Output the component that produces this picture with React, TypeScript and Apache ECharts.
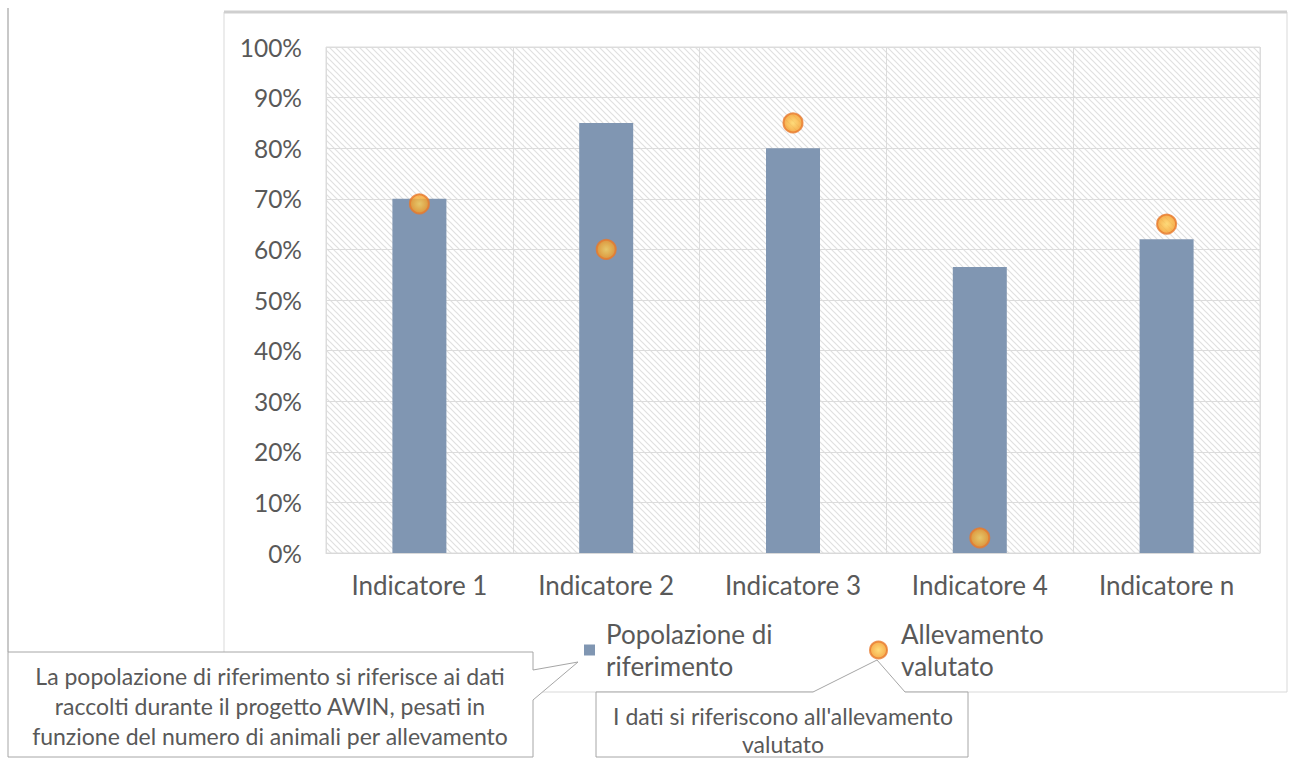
import React, { useEffect, useRef } from "react";
import * as echarts from "echarts";

const categories = ["Indicatore 1", "Indicatore 2", "Indicatore 3", "Indicatore 4", "Indicatore n"];
const popolazioneValues = [70, 85, 80, 56.5, 62];
const allevamentoValues = [69, 60, 85, 3, 65];
const seriesNames = ["Popolazione di riferimento", "Allevamento valutato"];
const legendLabels = ["Popolazione di\nriferimento", "Allevamento\nvalutato"];
const calloutLeft = "La popolazione di riferimento si riferisce ai dati\nraccolti durante il progetto AWIN, pesati in\nfunzione del numero di animali per allevamento";
const calloutRight = "I dati si riferiscono all'allevamento\nvalutato";

const FONT = "Lato, 'Noto Sans', sans-serif";
const TEXT = "#595959";

const hatchSvg =
  "data:image/svg+xml;utf8," +
  encodeURIComponent(
    "<svg xmlns='http://www.w3.org/2000/svg' width='6' height='6'><path d='M0,0 L6,6 M-1,5 L1,7 M5,-1 L7,1' stroke='#e0e0e0' stroke-width='1.2' fill='none'/></svg>"
  );

export default function App() {
  const ref = useRef<HTMLDivElement>(null);
  useEffect(() => {
    document.body.style.margin = "0";
    const chart = echarts.init(ref.current!, null, { renderer: "svg" });
    const markerColor = new echarts.graphic.RadialGradient(0.5, 0.5, 0.6, [
      { offset: 0, color: "#ffd35a" },
      { offset: 0.6, color: "#f7a930" },
      { offset: 1, color: "#ee8526" },
    ]);
    chart.setOption({
      animation: false,
      backgroundColor: "#ffffff",
      grid: {
        left: 326,
        right: 31,
        top: 47,
        bottom: 207,
        show: true,
        borderColor: "#dcdcdc",
        borderWidth: 1,
        backgroundColor: { image: hatchSvg, repeat: "repeat", imageWidth: 6, imageHeight: 6 } as any,
      },
      xAxis: {
        type: "category",
        data: categories,
        boundaryGap: true,
        axisLine: { show: true, lineStyle: { color: "#d9d9d9" } },
        axisTick: { show: false },
        splitLine: { show: true, lineStyle: { color: "#dcdcdc", width: 1 } },
        axisLabel: { color: TEXT, fontSize: 26, fontFamily: FONT, margin: 19 },
      },
      yAxis: {
        type: "value",
        min: 0,
        max: 100,
        interval: 10,
        axisLine: { show: false },
        axisTick: { show: false },
        splitLine: { show: true, lineStyle: { color: "#dcdcdc", width: 1 } },
        axisLabel: { color: TEXT, fontSize: 24.5, fontFamily: FONT, margin: 24, formatter: "{value}%" },
      },
      legend: [
        {
          data: [seriesNames[0]],
          left: 579,
          top: 613,
          itemWidth: 11,
          itemHeight: 11,
          icon: "rect",
          formatter: () => legendLabels[0],
          textStyle: { color: TEXT, fontSize: 26, fontFamily: FONT, lineHeight: 32, padding: [0, 0, 0, 6] },
          selectedMode: false,
        },
        {
          data: [seriesNames[1]],
          left: 864,
          top: 613,
          itemWidth: 17,
          itemHeight: 17,
          icon: "circle",
          formatter: () => legendLabels[1],
          textStyle: { color: TEXT, fontSize: 26, fontFamily: FONT, lineHeight: 32, padding: [0, 0, 0, 9] },
          selectedMode: false,
        },
      ],
      series: [
        {
          name: seriesNames[0],
          type: "bar",
          data: popolazioneValues,
          barWidth: 54,
          itemStyle: { color: "#8096b2" },
          z: 2,
        },
        {
          name: seriesNames[1],
          type: "scatter",
          data: allevamentoValues,
          symbol: "circle",
          symbolSize: 19,
          itemStyle: { color: markerColor, borderColor: "#e8792b", borderWidth: 2 },
          z: 3,
        },
      ],
      graphic: [
        {
          type: "rect",
          shape: { x: 224, y: 12, width: 1063, height: 680 },
          style: { fill: "none", stroke: "#d9d9d9", lineWidth: 1 },
          silent: true,
          z: -10,
        },
        {
          type: "line",
          shape: { x1: 224, y1: 12, x2: 1287, y2: 12 },
          style: { stroke: "#cfcfcf", lineWidth: 3 },
          silent: true,
          z: -9,
        },
        {
          type: "line",
          shape: { x1: 8, y1: 8, x2: 8, y2: 652 },
          style: { stroke: "#c8c8c8", lineWidth: 2 },
          silent: true,
        },
        {
          type: "polygon",
          shape: {
            points: [
              [8, 652], [533, 652], [533, 670], [578, 662], [533, 700], [533, 757], [8, 757],
            ],
          },
          style: { fill: "#ffffff", stroke: "#a6a6a6", lineWidth: 1 },
          z: 10,
        },
        {
          type: "text",
          x: 270,
          y: 706,
          style: {
            text: calloutLeft,
            fill: TEXT,
            font: "23px " + FONT,
            align: "center",
            verticalAlign: "middle",
            lineHeight: 30,
          },
          z: 11,
        },
        {
          type: "polygon",
          shape: {
            points: [
              [596, 692], [813, 692], [877, 660], [905, 692], [968, 692], [968, 757], [596, 757],
            ],
          },
          style: { fill: "#ffffff", stroke: "#a6a6a6", lineWidth: 1 },
          z: 10,
        },
        {
          type: "text",
          x: 783,
          y: 730,
          style: {
            text: calloutRight,
            fill: TEXT,
            font: "23px " + FONT,
            align: "center",
            verticalAlign: "middle",
            lineHeight: 28,
          },
          z: 11,
        },
      ],
    });
    return () => chart.dispose();
  }, []);
  return <div ref={ref} style={{ width: 1291, height: 760 }} />;
}
